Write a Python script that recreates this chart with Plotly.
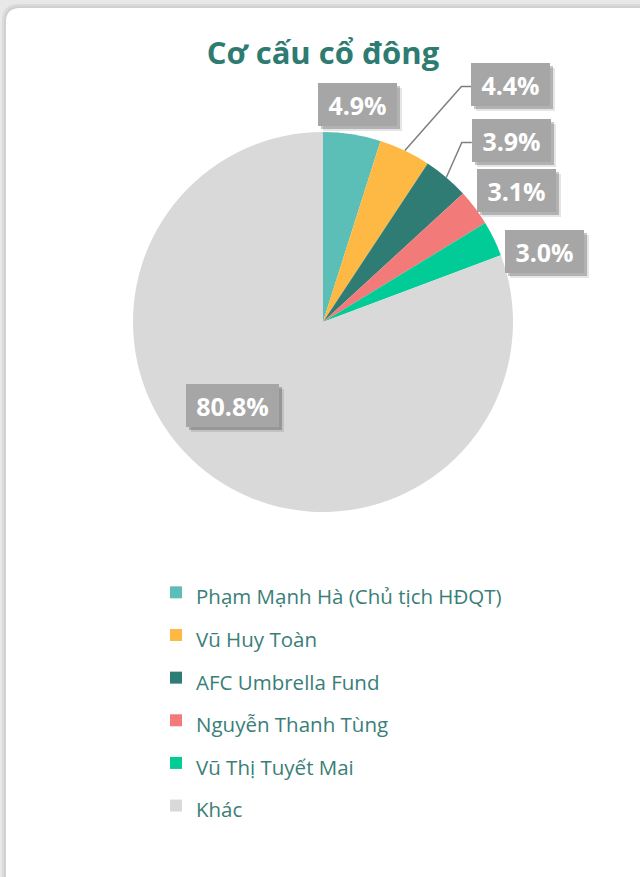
import math
import plotly.graph_objects as go

# ---- data ----
labels = ["Phạm Mạnh Hà (Chủ tịch HĐQT)", "Vũ Huy Toàn", "AFC Umbrella Fund",
          "Nguyễn Thanh Tùng", "Vũ Thị Tuyết Mai", "Khác"]
values = [4.9, 4.4, 3.9, 3.1, 3.0, 80.8]
colors = ["#5BBFB8", "#FDB943", "#2E7C74", "#F27A78", "#01CC98", "#D9D9D9"]
title_text = "Cơ cấu cổ đông"

# ---- layout constants (pixels) ----
W, H = 640, 877
CX, CY, R = 323, 322, 190          # pie centre / radius in pixels
label_offsets = [(5, -30), (106, -66), (65, -37), (42, -17), (51, 13), (18, -73)]
leader = [False, True, True, False, False, False]
BOX_PAD = 6
TEAL = "#2E7B72"

def px(x):
    return x / W

def py(y):
    return 1 - y / H

fig = go.Figure()
fig.add_trace(go.Pie(
    labels=[f'<span style="font-size:20.5px">{l}</span>' for l in labels],
    values=values, sort=False, direction="clockwise", rotation=0,
    marker=dict(colors=colors, line=dict(width=0)),
    textinfo="none", hoverinfo="label+percent",
    domain=dict(x=[px(CX - R), px(CX + R)], y=[py(CY + R), py(CY - R)]),
))

# ---- background card ----
shapes = []
def rounded(x0, y0, x1, y1, r):
    return (f"M {px(x0 + r)},{py(y0)} L {px(x1)},{py(y0)} L {px(x1)},{py(y1)} "
            f"L {px(x0)},{py(y1)} L {px(x0)},{py(y0 + r)} "
            f"Q {px(x0)},{py(y0)} {px(x0 + r)},{py(y0)} Z")
shapes.append(dict(type="path", xref="paper", yref="paper", layer="below",
                   path=rounded(2, 4, W + 20, H + 20, 17), fillcolor="#DADADA", line=dict(width=0)))
shapes.append(dict(type="path", xref="paper", yref="paper", layer="below",
                   path=rounded(4, 6, W + 20, H + 20, 16), fillcolor="#D0D0D0", line=dict(width=0)))
shapes.append(dict(type="path", xref="paper", yref="paper", layer="below",
                   path=rounded(6, 8, W + 20, H + 20, 14), fillcolor="#FFFFFF", line=dict(width=0)))

# ---- labels ----
total = sum(values)
cum = 0
annotations = []
shadow_ann = []
for i, v in enumerate(values):
    a0 = cum / total * 360
    cum += v
    a1 = cum / total * 360
    mid = math.radians((a0 + a1) / 2)
    axp = CX + R * math.sin(mid)
    ayp = CY - R * math.cos(mid)
    ox, oy = label_offsets[i]
    txt = f"{v:.1f}%"
    w = 81 if len(txt) > 4 else 67
    common = dict(x=px(axp), y=py(ayp), xref="paper", yref="paper",
                  showarrow=True, ax=ox, ay=oy, arrowcolor="rgba(0,0,0,0)", arrowwidth=0.1,
                  width=w, height=31, borderpad=BOX_PAD, borderwidth=0, align="center",
                  valign="middle")
    for sh, alpha in ((5, 0.10), (3, 0.22)):
        shadow_ann.append(dict(common, text=" ", bgcolor=f"rgba(0,0,0,{alpha})",
                               xshift=sh, yshift=-sh,
                               font=dict(family="Open Sans", size=25, color="rgba(0,0,0,0)")))
    annotations.append(dict(common, text=f"<b>{txt}</b>", bgcolor="#A6A6A6",
                            font=dict(family="Open Sans", size=25, color="#FFFFFF")))
    if leader[i]:
        bx = axp + ox - (w + 2 * BOX_PAD) / 2
        by = ayp + oy + 2
        shapes.append(dict(type="path", xref="paper", yref="paper",
                           path=f"M {px(axp)},{py(ayp)} L {px(bx - 10)},{py(by)} L {px(bx)},{py(by)}",
                           line=dict(color="#7F7F7F", width=1.5)))

fig.update_layout(
    width=W, height=H,
    margin=dict(l=0, r=0, t=0, b=0),
    paper_bgcolor="#E8E8E8",
    plot_bgcolor="#FFFFFF",
    title=dict(text=f"<b>{title_text}</b>", x=px(CX), xanchor="center",
               y=py(53), yanchor="middle", yref="container",
               font=dict(family="Open Sans", size=31, color=TEAL)),
    shapes=shapes,
    annotations=shadow_ann + annotations,
    legend=dict(orientation="v", x=px(156), xanchor="left", y=py(566), yanchor="top",
                font=dict(family="Open Sans", size=30.5, color="#3A7E78"),
                bgcolor="rgba(0,0,0,0)", itemclick=False),
    showlegend=True,
)

fig.write_html("out.html", config={"displayModeBar": False},
               post_script="document.body.style.margin='0';")
